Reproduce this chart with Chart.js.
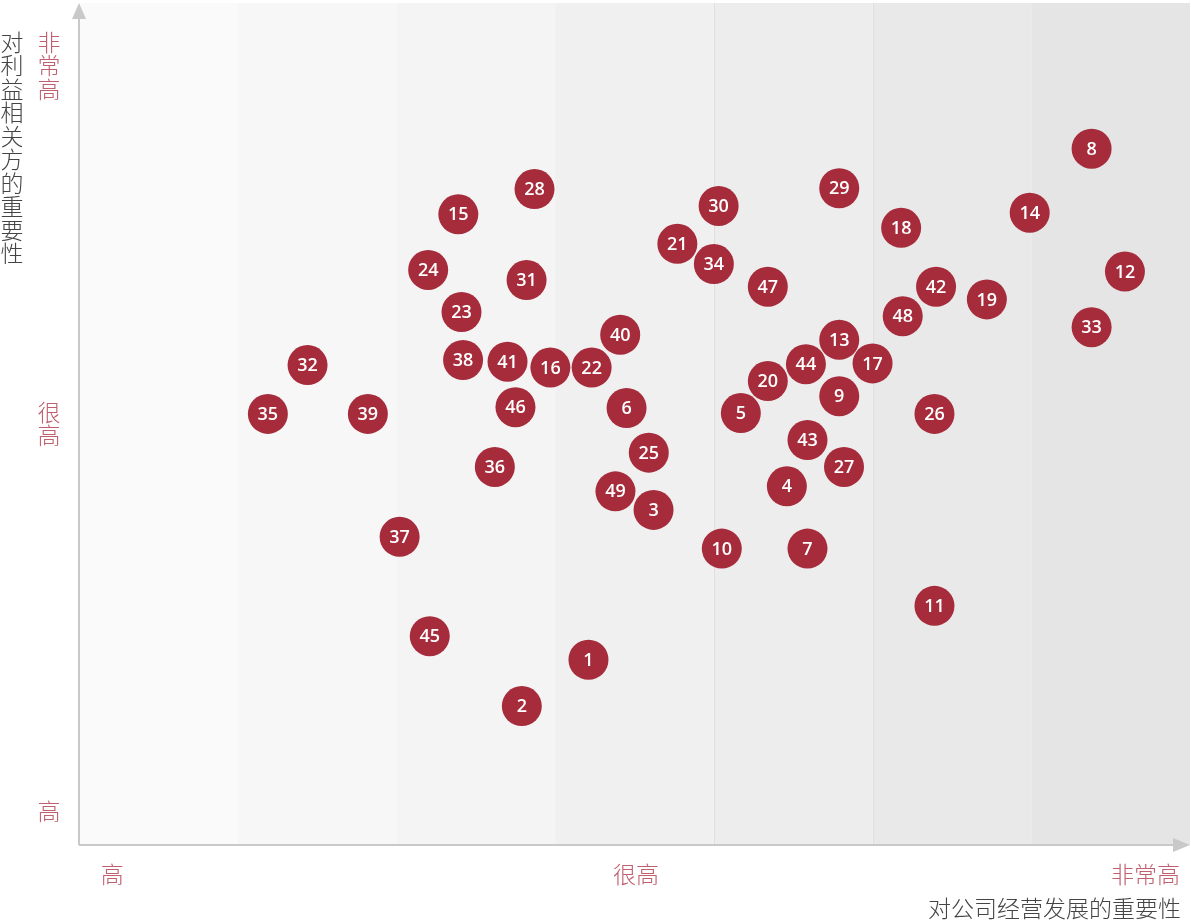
<!DOCTYPE html>
<html>
<head>
<meta charset="utf-8">
<script src="https://cdn.jsdelivr.net/npm/chart.js@4"></script>
<style>
  body { margin: 0; background: #fff; }
  #wrap { width: 1191px; height: 921px; position: relative; }
</style>
</head>
<body>
<div id="wrap"><canvas id="matrix"></canvas></div>
<script>
// issue numbers and their positions (x: importance to business, y: importance to stakeholders)
const issueIds = [1, 2, 3, 4, 5, 6, 7, 8, 9, 10, 11, 12, 13, 14, 15, 16, 17, 18, 19, 20,
  21, 22, 23, 24, 25, 26, 27, 28, 29, 30, 31, 32, 33, 34, 35, 36, 37, 38, 39, 40,
  41, 42, 43, 44, 45, 46, 47, 48, 49];
const businessScore = [32.1, 27.9, 36.2, 44.6, 41.7, 34.5, 45.9, 63.8, 47.9, 40.5,
  53.9, 65.9, 47.9, 59.9, 23.9, 29.7, 50.0, 51.8, 57.2, 43.4,
  37.7, 32.3, 24.1, 22.0, 35.9, 53.9, 48.2, 28.7, 47.9, 40.3,
  28.2, 14.4, 63.8, 40.0, 11.9, 26.2, 20.2, 24.2, 18.2, 34.1,
  27.0, 54.0, 45.9, 45.8, 22.1, 27.5, 43.4, 51.9, 33.8];
const stakeholderScore = [22.0, 16.5, 39.8, 42.6, 51.3, 51.9, 35.2, 82.7, 53.3, 35.2,
  28.4, 68.1, 60.0, 75.1, 74.9, 56.7, 57.2, 73.3, 64.8, 55.1,
  71.4, 56.7, 63.3, 68.3, 46.6, 51.2, 44.9, 77.9, 78.0, 75.9,
  67.1, 57.0, 61.5, 69.0, 51.2, 44.9, 36.6, 57.6, 51.2, 60.6,
  57.4, 66.3, 48.1, 57.1, 24.8, 52.0, 66.3, 62.8, 42.0];

// tick labels
const xTickLabels = ['高', '很高', '非常高'];
const xTickValues = [2.1, 35.1, 67.2];
const yTickLabels = ['非常高', '很高', '高'];
const yTickValues = [92.6, 50, 4];

// background bands
const bandEdges = [0, 10, 20, 30, 40, 50, 60, 70];
const bandColors = ['#fafafa', '#f7f7f7', '#f4f4f4', '#f0f0f0', '#ededed', '#e9e9e9', '#e5e5e5'];
const dividerValues = [40, 50];

const xTitle = '对公司经营发展的重要性';
const yTitle = '对利益相关方的重要性';

const CJK = '"Noto Sans CJK SC", "Noto Sans", sans-serif';
const RED = '#a62b3b';
const TICK_RED = '#c0606e';

const points = issueIds.map((id, i) => ({ x: businessScore[i], y: stakeholderScore[i] }));

const matrixPlugin = {
  id: 'matrix',
  beforeDatasetsDraw(chart) {
    const { ctx, chartArea: a, scales: { x, y } } = chart;
    ctx.save();
    // bands
    bandColors.forEach((c, i) => {
      const x0 = x.getPixelForValue(bandEdges[i]);
      const x1 = x.getPixelForValue(bandEdges[i + 1]);
      ctx.fillStyle = c;
      ctx.fillRect(x0, a.top, x1 - x0, a.bottom - a.top);
    });
    ctx.strokeStyle = '#dedede';
    ctx.lineWidth = 1;
    dividerValues.forEach(v => {
      const px = Math.round(x.getPixelForValue(v)) + 0.5;
      ctx.beginPath();
      ctx.moveTo(px, a.top);
      ctx.lineTo(px, a.bottom);
      ctx.stroke();
    });
    // axes with arrows
    ctx.strokeStyle = '#c9c9c9';
    ctx.fillStyle = '#c9c9c9';
    ctx.lineWidth = 2;
    ctx.beginPath();
    ctx.moveTo(a.left, a.bottom);
    ctx.lineTo(a.left, a.top + 12);
    ctx.moveTo(a.left, a.bottom);
    ctx.lineTo(a.right - 14, a.bottom);
    ctx.stroke();
    ctx.beginPath();
    ctx.moveTo(a.left, a.top);
    ctx.lineTo(a.left - 7, a.top + 16);
    ctx.lineTo(a.left + 7, a.top + 16);
    ctx.closePath();
    ctx.fill();
    ctx.beginPath();
    ctx.moveTo(a.right, a.bottom);
    ctx.lineTo(a.right - 17, a.bottom - 7);
    ctx.lineTo(a.right - 17, a.bottom + 7);
    ctx.closePath();
    ctx.fill();
    ctx.restore();
  },
  afterDatasetsDraw(chart) {
    const { ctx } = chart;
    const meta = chart.getDatasetMeta(0);
    ctx.save();
    ctx.fillStyle = '#fff';
    ctx.font = '600 18px "Open Sans", sans-serif';
    ctx.textAlign = 'center';
    ctx.textBaseline = 'middle';
    meta.data.forEach((pt, i) => {
      ctx.fillText(String(issueIds[i]), pt.x, pt.y + 1);
    });
    ctx.restore();
  },
  afterDraw(chart) {
    const { ctx, chartArea: a, scales: { x, y } } = chart;
    ctx.save();
    ctx.font = '300 23px ' + CJK;
    ctx.textBaseline = 'middle';
    ctx.textAlign = 'center';
    ctx.fillStyle = TICK_RED;
    // x tick labels
    xTickLabels.forEach((t, i) => {
      ctx.fillText(t, x.getPixelForValue(xTickValues[i]), a.bottom + 29);
    });
    // y tick labels, stacked vertically
    const step = 23.5;
    yTickLabels.forEach((t, i) => {
      const cy = y.getPixelForValue(yTickValues[i]);
      const chars = t.split('');
      const start = cy - (chars.length - 1) * step / 2;
      chars.forEach((ch, k) => ctx.fillText(ch, 49, start + k * step));
    });
    // titles
    ctx.fillStyle = '#444';
    yTitle.split('').forEach((ch, k) => ctx.fillText(ch, 12, 42 + k * step));
    ctx.textAlign = 'right';
    ctx.fillText(xTitle, 1181, a.bottom + 63);
    ctx.restore();
  }
};

new Chart(document.getElementById('matrix'), {
  type: 'scatter',
  data: {
    datasets: [{
      data: points,
      pointRadius: 20,
      pointHoverRadius: 20,
      backgroundColor: RED,
      borderWidth: 0,
      clip: false
    }]
  },
  options: {
    responsive: true,
    maintainAspectRatio: false,
    animation: false,
    layout: { autoPadding: false, padding: { left: 79, top: 3, right: 1, bottom: 76 } },
    plugins: { legend: { display: false }, tooltip: { enabled: false } },
    scales: {
      x: { type: 'linear', min: 0, max: 70, display: false },
      y: { type: 'linear', min: 0, max: 100, display: false }
    }
  },
  plugins: [matrixPlugin]
});
</script>
</body>
</html>
